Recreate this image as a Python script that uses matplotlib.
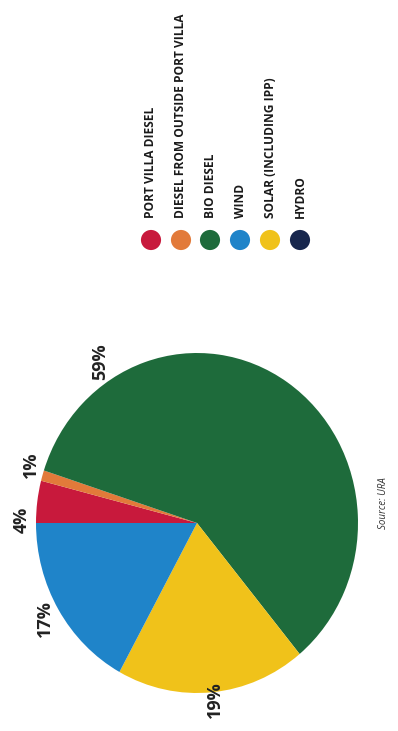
import matplotlib.pyplot as plt

plt.rcParams['font.family'] = ['Open Sans', 'DejaVu Sans']

# generation mix (percent of total)
sources = ['PORT VILLA DIESEL', 'DIESEL FROM OUTSIDE PORT VILLA', 'BIO DIESEL',
           'WIND', 'SOLAR (INCLUDING IPP)', 'HYDRO']
colors = ['#c8193c', '#e27a3a', '#1e6b3b', '#1f84c9', '#f0c21a', '#17264d']
# pie order going round from the left edge
pie_order = [0, 1, 2, 4, 3]
shares = [4, 1, 59, 19, 17]

W, H = 398, 731
fig = plt.figure(figsize=(W / 100, H / 100), dpi=100)
fig.patch.set_facecolor('white')

# pie axes: centre (197, 523) px, radii 161 x 170 px
cx, cy, rx, ry = 197, 523, 161, 170
ax = fig.add_axes([(cx - rx) / W, (H - cy - ry) / H, 2 * rx / W, 2 * ry / H])
wedges, texts = ax.pie(shares, colors=[colors[i] for i in pie_order],
                       startangle=180, counterclock=False,
                       labels=[f'{v}%' for v in shares], labeldistance=1.1,
                       wedgeprops=dict(linewidth=0))
ax.set_aspect('auto')
ax.set_xlim(-1, 1)
ax.set_ylim(-1, 1)
for t in texts:
    t.set_rotation(90)
    t.set_ha('center')
    t.set_va('center')
    t.set_fontsize(13)
    t.set_fontweight('bold')
    t.set_color('#222222')
# nudge the crowded labels apart
texts[0].set_position((-1.09, 0.02))
texts[1].set_position((-1.03, 0.34))
texts[2].set_position((-0.60, 0.95))
texts[3].set_position((0.11, -1.04))

# legend and source note, drawn in pixel space
ov = fig.add_axes([0, 0, 1, 1])
ov.set_xlim(0, W)
ov.set_ylim(H, 0)
ov.axis('off')
leg_x = [151, 181, 210, 240, 270, 300]
for x, name, c in zip(leg_x, sources, colors):
    ov.scatter(x, 240, s=210, color=c, edgecolors='none')
    ov.text(x, 218, name, rotation=90, ha='center', va='bottom',
            fontsize=8.6, fontweight='bold', color='#1a1a1a')
ov.text(384, 503, 'Source: URA', rotation=90, ha='center', va='center',
        fontsize=7, style='italic', color='#333333')

fig.savefig('out.png', dpi=100)
